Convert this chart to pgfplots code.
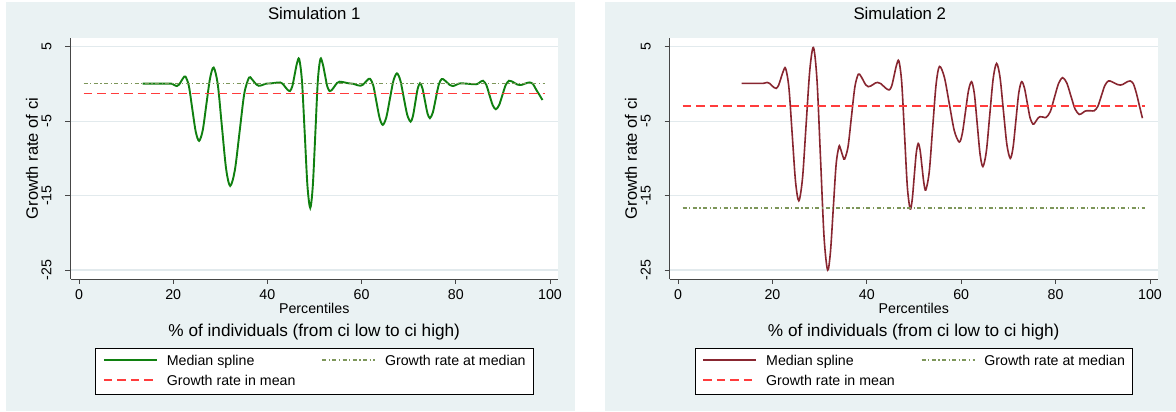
\documentclass[border=0pt]{standalone}
\usepackage{fontspec}
\setmainfont{Liberation Sans}
\usepackage{pgfplots}
\pgfplotsset{compat=1.18}
\definecolor{bgc}{RGB}{234,242,243}
\definecolor{gridc}{RGB}{226,234,237}
\definecolor{sgreen}{RGB}{16,128,16}
\definecolor{smaroon}{RGB}{136,38,48}
\definecolor{sred}{RGB}{255,60,60}
\definecolor{solive}{RGB}{125,150,90}
\definecolor{axc}{RGB}{70,70,70}

\pgfplotsset{
 simstyle/.style={
  scale only axis, height=241pt,
  xmin=-1.8, xmax=101.7, ymin=-26.2, ymax=6.17,
  axis x line*=bottom, axis y line*=left,
  axis line style={-, axc, line width=0.9pt},
  axis background/.style={fill=white},
  xtick={0,20,40,60,80,100}, ytick={-25,-15,-5,5},
  tick align=outside, major tick length=5pt,
  tick style={axc, line width=0.9pt},
  ymajorgrids, major grid style={gridc, line width=1.2pt},
  tick label style={font=\fontsize{14.2}{16}\selectfont, black},
  /pgf/number format/assume math mode=true,
  xticklabel style={anchor=base, yshift=-16pt},
  yticklabel style={rotate=90, anchor=base, yshift=14pt},
  ylabel={Growth rate of ci},
  ylabel style={at={(axis description cs:-0.0667,0.5)}, anchor=base, font=\fontsize{16.5}{18}\selectfont},
  title style={at={(axis description cs:0.5,1)}, anchor=base, yshift=12pt, font=\fontsize{16.8}{18}\selectfont},
  legend columns=2,
  legend cell align=left,
  legend image code/.code={\draw[##1] (0pt,1.4pt) -- (53pt,1.4pt);},
  legend style={at={(0.5,0)}, anchor=north, yshift=-69pt, draw=black, line width=0.8pt, fill=white,
    font=\fontsize{14.2}{16}\selectfont, inner xsep=7.5pt, inner ysep=6.5pt, row sep=7pt,
    nodes={inner sep=0pt, text height=10.2pt, text depth=3pt},
    /tikz/every odd column/.style={column sep=9pt},
    /tikz/every even column/.style={column sep=26pt}},
 },
 medline/.style={draw=solive, line width=1.6pt, dash pattern=on 4pt off 2.5pt on 1.2pt off 2.5pt},
 meanline/.style={draw=sred, line width=1.6pt, dash pattern=on 8.5pt off 5pt},
}

\begin{document}
\begin{tikzpicture}
\useasboundingbox (0pt,0pt) rectangle (1176pt,412pt);
\fill[white] (0pt,0pt) rectangle (1176pt,412pt);
\fill[bgc] (6pt,1pt) rectangle (575pt,410pt);
\fill[bgc] (605pt,1pt) rectangle (1176pt,410pt);

\begin{axis}[simstyle, name=ax1, width=487.5pt, at={(70.5pt,133pt)}, anchor=south west, title={Simulation 1}]
\addplot[sgreen, line width=1.9pt, smooth] coordinates {
(13.5,0.05) (14.5,0.05) (15.5,0.05) (16.5,0.05) (17.5,0.05) (18.3,0.05) (18.9,0.05) (19.5,0.05)
(19.83,0.0) (20.15,-0.12) (20.48,-0.23) (20.8,-0.28)
(21.25,-0.09) (21.7,0.36) (22.15,0.81) (22.6,1.0)
(23.33,-0.27) (24.05,-3.33) (24.78,-6.38) (25.5,-7.65)
(26.28,-6.21) (27.05,-2.73) (27.83,0.76) (28.6,2.2)
(29.48,-0.13) (30.35,-5.75) (31.23,-11.37) (32.1,-13.7)
(33.1,-11.57) (34.1,-6.43) (35.1,-1.28) (36.1,0.85)
(36.63,0.69) (37.15,0.3) (37.68,-0.09) (38.2,-0.25)
(38.65,-0.21) (39.1,-0.1) (39.55,0.01) (40.0,0.05)
(40.68,0.07) (41.35,0.12) (42.03,0.18) (42.7,0.2)
(43.23,0.03) (43.75,-0.38) (44.28,-0.78) (44.8,-0.95)
(45.29,-0.32) (45.78,1.2) (46.26,2.72) (46.75,3.35)
(47.34,0.42) (47.93,-6.65) (48.51,-13.72) (49.1,-16.65)
(49.64,-13.72) (50.18,-6.65) (50.71,0.42) (51.25,3.35)
(51.74,2.72) (52.23,1.2) (52.71,-0.32) (53.2,-0.95)
(53.73,-0.77) (54.25,-0.33) (54.78,0.12) (55.3,0.3)
(55.93,0.26) (56.55,0.18) (57.18,0.09) (57.8,0.05)
(58.3,0.01) (58.8,-0.1) (59.3,-0.2) (59.8,-0.24)
(60.3,-0.1) (60.8,0.23) (61.3,0.56) (61.8,0.7)
(62.48,-0.21) (63.15,-2.4) (63.83,-4.59) (64.5,-5.5)
(65.25,-4.49) (66.0,-2.04) (66.75,0.41) (67.5,1.42)
(68.23,0.47) (68.95,-1.83) (69.68,-4.12) (70.4,-5.07)
(70.9,-4.32) (71.4,-2.5) (71.9,-0.67) (72.4,0.08)
(72.93,-0.61) (73.45,-2.26) (73.98,-3.92) (74.5,-4.6)
(75.13,-3.83) (75.75,-1.97) (76.38,-0.11) (77.0,0.66)
(77.58,0.52) (78.15,0.19) (78.73,-0.14) (79.3,-0.28)
(79.73,-0.23) (80.15,-0.1) (80.58,0.03) (81.0,0.08)
(81.83,0.06) (82.65,0.02) (83.48,-0.03) (84.3,-0.05)
(84.68,0.02) (85.05,0.19) (85.43,0.36) (85.8,0.43)
(86.48,-0.13) (87.15,-1.49) (87.83,-2.84) (88.5,-3.4)
(89.2,-2.84) (89.9,-1.49) (90.6,-0.13) (91.3,0.43)
(91.88,0.35) (92.45,0.14) (93.03,-0.07) (93.6,-0.15)
(94.13,-0.1) (94.65,0.03) (95.18,0.15) (95.7,0.2)
(96.38,0.0) (97.05,-0.75) (97.73,-1.45) (98.4,-2.16)
};
\addlegendentry{Median spline}
\addplot[medline] coordinates {(1,0.08) (99,0.08)};
\addlegendentry{Growth rate at median}
\addplot[meanline] coordinates {(1,-1.26) (99,-1.26)};
\addlegendentry{Growth rate in mean}
\end{axis}
\node[anchor=base, font=\fontsize{14.2}{16}\selectfont, yshift=-35pt] at (ax1.south) {Percentiles};
\node[anchor=base, font=\fontsize{17.2}{19}\selectfont, yshift=-58pt] at (ax1.south) {\% of individuals (from ci low to ci high)};

\begin{axis}[simstyle, name=ax2, width=488.5pt, at={(669.5pt,133pt)}, anchor=south west, title={Simulation 2},
  title style={xshift=-14pt}]
\addplot[smaroon, line width=1.6pt, smooth] coordinates {
(13.5,0.08) (14.5,0.08) (15.5,0.08) (16.5,0.08) (17.3,0.08) (18.1,0.08)
(18.5,0.14) (18.9,0.2)
(19.38,0.08) (19.85,-0.2) (20.33,-0.48) (20.8,-0.6)
(21.3,-0.2) (21.8,0.75) (22.3,1.7) (22.8,2.1)
(23.5,-0.51) (24.2,-6.8) (24.9,-13.09) (25.6,-15.7)
(26.38,-12.68) (27.15,-5.4) (27.93,1.88) (28.7,4.9)
(29.45,0.52) (30.2,-10.05) (30.95,-20.62) (31.7,-25.0)
(32.3,-22.57) (32.9,-16.7) (33.5,-10.83) (34.1,-8.4)
(34.4,-8.65) (34.7,-9.25) (35.0,-9.85) (35.3,-10.1)
(36.03,-8.43) (36.75,-4.4) (37.48,-0.37) (38.2,1.3)
(38.73,1.06) (39.25,0.47) (39.78,-0.13) (40.3,-0.37)
(40.8,-0.29) (41.3,-0.09) (41.8,0.12) (42.3,0.2)
(42.93,0.05) (43.55,-0.3) (44.18,-0.65) (44.8,-0.8)
(45.3,-0.23) (45.8,1.15) (46.3,2.53) (46.8,3.1)
(47.4,0.19) (48.0,-6.85) (48.6,-13.89) (49.2,-16.8)
(49.63,-15.51) (50.05,-12.4) (50.48,-9.29) (50.9,-8.0)
(51.3,-8.92) (51.7,-11.13) (52.1,-13.34) (52.5,-14.25)
(53.23,-11.82) (53.95,-5.95) (54.68,-0.08) (55.4,2.35)
(56.45,0.86) (57.5,-2.73) (58.55,-6.31) (59.6,-7.8)
(60.25,-6.61) (60.9,-3.75) (61.55,-0.89) (62.2,0.3)
(62.8,-1.37) (63.4,-5.4) (64.0,-9.43) (64.6,-11.1)
(65.33,-9.07) (66.05,-4.18) (66.78,0.72) (67.5,2.75)
(68.23,0.88) (68.95,-3.63) (69.68,-8.13) (70.4,-10.0)
(71.0,-8.49) (71.6,-4.85) (72.2,-1.21) (72.8,0.3)
(73.4,-0.53) (74.0,-2.55) (74.6,-4.57) (75.2,-5.4)
(75.58,-5.25) (75.95,-4.9) (76.33,-4.55) (76.7,-4.4)
(77.35,-4.45) (78.0,-4.5)
(78.88,-3.72) (79.75,-1.83) (80.63,0.06) (81.5,0.84)
(82.38,0.12) (83.25,-1.63) (84.13,-3.38) (85.0,-4.1)
(85.4,-4.03) (85.8,-3.85) (86.2,-3.67) (86.6,-3.6)
(87.4,-3.6) (88.2,-3.6)
(88.95,-3.01) (89.7,-1.6) (90.45,-0.19) (91.2,0.4)
(91.83,0.32) (92.45,0.13) (93.08,-0.07) (93.7,-0.15)
(94.23,-0.07) (94.75,0.13) (95.28,0.32) (95.8,0.4)
(96.45,0.05) (97.1,-1.2) (97.75,-2.9) (98.4,-4.6)
};
\addlegendentry{Median spline}
\addplot[medline] coordinates {(1,-16.63) (99,-16.63)};
\addlegendentry{Growth rate at median}
\addplot[meanline] coordinates {(1,-2.93) (99,-2.93)};
\addlegendentry{Growth rate in mean}
\end{axis}
\node[anchor=base, font=\fontsize{14.2}{16}\selectfont, yshift=-35pt] at (ax2.south) {Percentiles};
\node[anchor=base, font=\fontsize{17.2}{19}\selectfont, yshift=-58pt] at (ax2.south) {\% of individuals (from ci low to ci high)};
\end{tikzpicture}
\end{document}
